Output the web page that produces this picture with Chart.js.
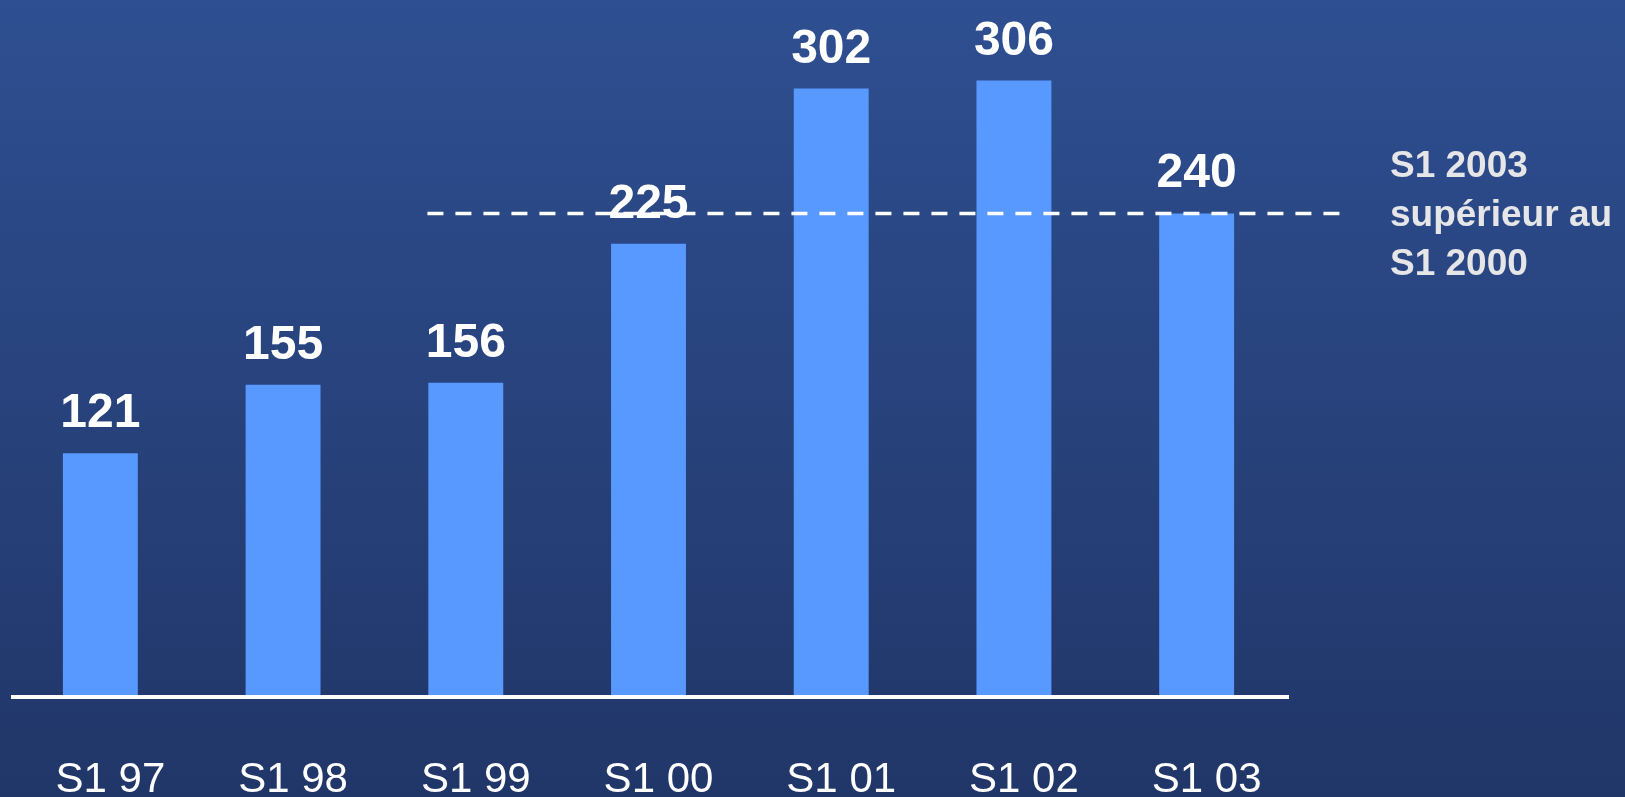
<!DOCTYPE html>
<html>
<head>
<meta charset="utf-8">
<script src="https://cdn.jsdelivr.net/npm/chart.js@4/dist/chart.umd.min.js"></script>
<style>
  html, body { margin: 0; padding: 0; background: #263f78; }
  #wrap { width: 1625px; height: 797px; position: relative; }
</style>
</head>
<body>
<div id="wrap"><canvas id="grafico"></canvas></div>
<script>
const categories = ['S1 97', 'S1 98', 'S1 99', 'S1 00', 'S1 01', 'S1 02', 'S1 03'];
const values = [121, 155, 156, 225, 302, 306, 240];
const refValue = 240;
const refFromCategory = 1.79;   // dashed line starts just before S1 99
const noteLines = ['S1 2003', 'supérieur au', 'S1 2000'];

const decor = {
    id: 'decor',
    beforeDraw(chart) {
        const c = chart.ctx;
        const g = c.createLinearGradient(0, 0, 0, chart.height);
        g.addColorStop(0, '#2e4f91');
        g.addColorStop(1, '#213668');
        c.save();
        c.fillStyle = g;
        c.fillRect(0, 0, chart.width, chart.height);
        c.restore();
    },
    afterDatasetsDraw(chart) {
        const c = chart.ctx;
        const x = chart.scales.x, y = chart.scales.y;
        const area = chart.chartArea;
        c.save();

        // baseline
        c.strokeStyle = '#ffffff';
        c.lineWidth = 4;
        c.beginPath();
        c.moveTo(area.left + 2, y.getPixelForValue(0));
        c.lineTo(area.right + 1, y.getPixelForValue(0));
        c.stroke();

        // value labels
        c.fillStyle = '#ffffff';
        c.font = 'bold 48px "Liberation Sans", Arial, sans-serif';
        c.textAlign = 'center';
        c.textBaseline = 'alphabetic';
        values.forEach((v, i) => {
            c.fillText(String(v), x.getPixelForValue(i), y.getPixelForValue(v) - 26);
        });

        // reference dashed line
        const ry = y.getPixelForValue(refValue);
        c.setLineDash([16, 12]);
        c.lineWidth = 3.5;
        c.beginPath();
        c.moveTo(x.getPixelForValue(refFromCategory), ry);
        c.lineTo(area.right + 52, ry);
        c.stroke();
        c.setLineDash([]);

        // category labels
        c.font = '42px "Liberation Sans", Arial, sans-serif';
        categories.forEach((lab, i) => {
            c.fillText(lab, x.getPixelForValue(i) + 10, 792);
        });

        // note on the right
        c.fillStyle = '#e6e6e8';
        c.textAlign = 'left';
        c.font = 'bold 37px "Liberation Sans", Arial, sans-serif';
        noteLines.forEach((t, i) => {
            c.fillText(t, 1390, 177 + i * 49);
        });
        c.restore();
    }
};

const ctx = document.getElementById('grafico').getContext('2d');
new Chart(ctx, {
    type: 'bar',
    data: {
        labels: categories,
        datasets: [{
            data: values,
            backgroundColor: '#5899ff',
            borderWidth: 0,
            barPercentage: 0.41,
            categoryPercentage: 1
        }]
    },
    options: {
        responsive: true,
        maintainAspectRatio: false,
        animation: false,
        layout: { padding: { left: 9, right: 337, top: 12, bottom: 100 } },
        plugins: {
            legend: { display: false },
            tooltip: { enabled: false }
        },
        scales: {
            x: { display: false },
            y: { display: false, min: 0, max: 340 }
        }
    },
    plugins: [decor]
});
</script>
</body>
</html>
